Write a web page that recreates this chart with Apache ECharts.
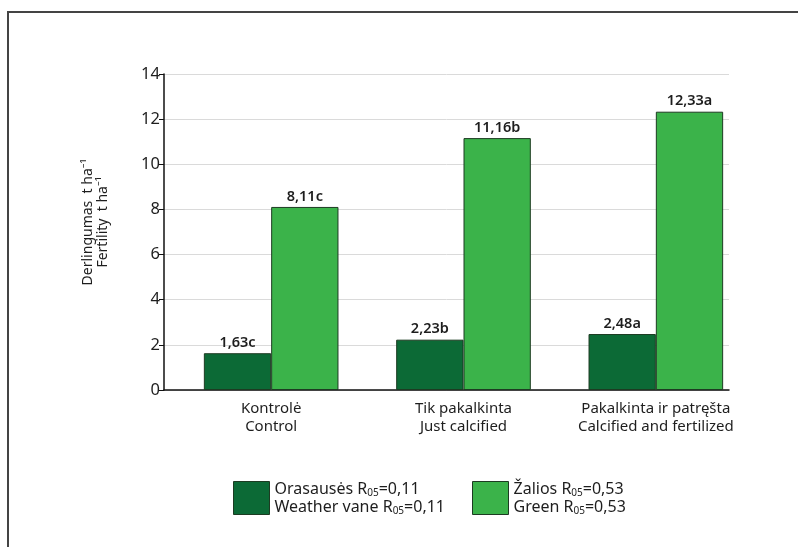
<!DOCTYPE html>
<html>
<head>
<meta charset="utf-8">
<script src="https://cdn.jsdelivr.net/npm/echarts@6/dist/echarts.min.js"></script>
<style>
  html, body { margin: 0; padding: 0; background: #fff; }
  #chart { width: 798px; height: 547px; }
</style>
</head>
<body>
<div id="chart"></div>
<script>
// Yield by treatment, t/ha
const categories = ['Kontrolė\nControl', 'Tik pakalkinta\nJust calcified', 'Pakalkinta ir patręšta\nCalcified and fertilized'];
const seriesNames = ['Orasausės', 'Žalios'];
const weatherVane = [1.63, 2.23, 2.48];
const green = [8.11, 11.16, 12.33];
const weatherVaneLetters = ['c', 'b', 'a'];
const greenLetters = ['c', 'b', 'a'];
const yTicks = [0, 2, 4, 6, 8, 10, 12, 14];

const FONT = 'Noto Sans';
const TEXT = '#1e1e1e';
const DARK = '#0c6a36';
const LIGHT = '#3bb34a';

const fmt = (v, letter) => v.toFixed(2).replace('.', ',') + letter;

const legendRich = {
  t: { fontFamily: FONT, fontSize: 16, lineHeight: 18, color: TEXT },
  s: { fontFamily: FONT, fontSize: 10, lineHeight: 11, color: TEXT, verticalAlign: 'bottom' }
};

const chart = echarts.init(document.getElementById('chart'), null, { renderer: 'canvas' });

chart.setOption({
  backgroundColor: '#fff',
  animation: false,
  textStyle: { fontFamily: FONT },
  graphic: [
    { type: 'line', shape: { x1: 7, y1: 12, x2: 798, y2: 12 }, style: { stroke: '#444', lineWidth: 2 } },
    { type: 'line', shape: { x1: 8, y1: 12, x2: 8, y2: 547 }, style: { stroke: '#444', lineWidth: 2 } }
  ],
  grid: [
    { left: 164, right: 69, top: 74, bottom: 157 },
    { left: 175, right: 46, top: 74, bottom: 157 }
  ],
  legend: [
    {
      data: [seriesNames[0]], left: 228, top: 476, icon: 'rect',
      itemWidth: 36, itemHeight: 33, selectedMode: false,
      itemStyle: { borderColor: '#1d3b22', borderWidth: 1 },
      formatter: () => '{t|Orasausės R}{s|05}{t|=0,11}\n{t|Weather vane R}{s|05}{t|=0,11}',
      textStyle: { rich: legendRich }
    },
    {
      data: [seriesNames[1]], left: 467, top: 476, icon: 'rect',
      itemWidth: 36, itemHeight: 33, selectedMode: false,
      itemStyle: { borderColor: '#1d3b22', borderWidth: 1 },
      formatter: () => '{t|Žalios R}{s|05}{t|=0,53}\n{t|Green R}{s|05}{t|=0,53}',
      textStyle: { rich: legendRich }
    }
  ],
  xAxis: [
    {
      type: 'category', gridIndex: 0, data: categories,
      axisLine: { lineStyle: { color: '#111', width: 1.5 } },
      axisTick: { show: false }, axisLabel: { show: false }
    },
    {
      type: 'category', gridIndex: 1, data: categories,
      axisLine: { show: false }, axisTick: { show: false },
      axisLabel: { interval: 0, hideOverlap: false, fontFamily: FONT, fontSize: 15, lineHeight: 18, color: TEXT, margin: 10 }
    }
  ],
  yAxis: [
    {
      type: 'value', gridIndex: 0, min: yTicks[0], max: yTicks[yTicks.length - 1], interval: 2,
      axisLine: { show: true, lineStyle: { color: '#111', width: 1.5 } },
      axisTick: { show: true, length: 5, lineStyle: { color: '#111' } },
      axisLabel: { fontFamily: FONT, fontSize: 16.5, color: TEXT, margin: 4 },
      splitLine: { lineStyle: { color: '#dadada', width: 1 } },
      name: 'Derlingumas  t ha⁻¹\nFertility  t ha⁻¹',
      nameLocation: 'middle', nameRotate: 90, nameGap: 53,
      nameTextStyle: { fontFamily: FONT, fontSize: 14, lineHeight: 15, color: TEXT, padding: [0, 0, 0, 20] }
    },
    {
      type: 'value', gridIndex: 1, min: yTicks[0], max: yTicks[yTicks.length - 1], interval: 2,
      show: false, splitLine: { show: false }
    }
  ],
  series: [
    {
      name: seriesNames[0], type: 'bar', xAxisIndex: 1, yAxisIndex: 1,
      data: weatherVane, barGap: '0%', barCategoryGap: '30%',
      itemStyle: { color: DARK, borderColor: '#1d3b22', borderWidth: 1 },
      label: {
        show: true, position: 'top', distance: 3, fontFamily: FONT, fontSize: 14.5,
        fontWeight: 600, color: TEXT,
        formatter: p => fmt(p.value, weatherVaneLetters[p.dataIndex])
      }
    },
    {
      name: seriesNames[1], type: 'bar', xAxisIndex: 1, yAxisIndex: 1,
      data: green, barGap: '0%', barCategoryGap: '30%',
      itemStyle: { color: LIGHT, borderColor: '#1d3b22', borderWidth: 1 },
      label: {
        show: true, position: 'top', distance: 3, fontFamily: FONT, fontSize: 14.5,
        fontWeight: 600, color: TEXT,
        formatter: p => fmt(p.value, greenLetters[p.dataIndex])
      }
    }
  ]
});
</script>
</body>
</html>
